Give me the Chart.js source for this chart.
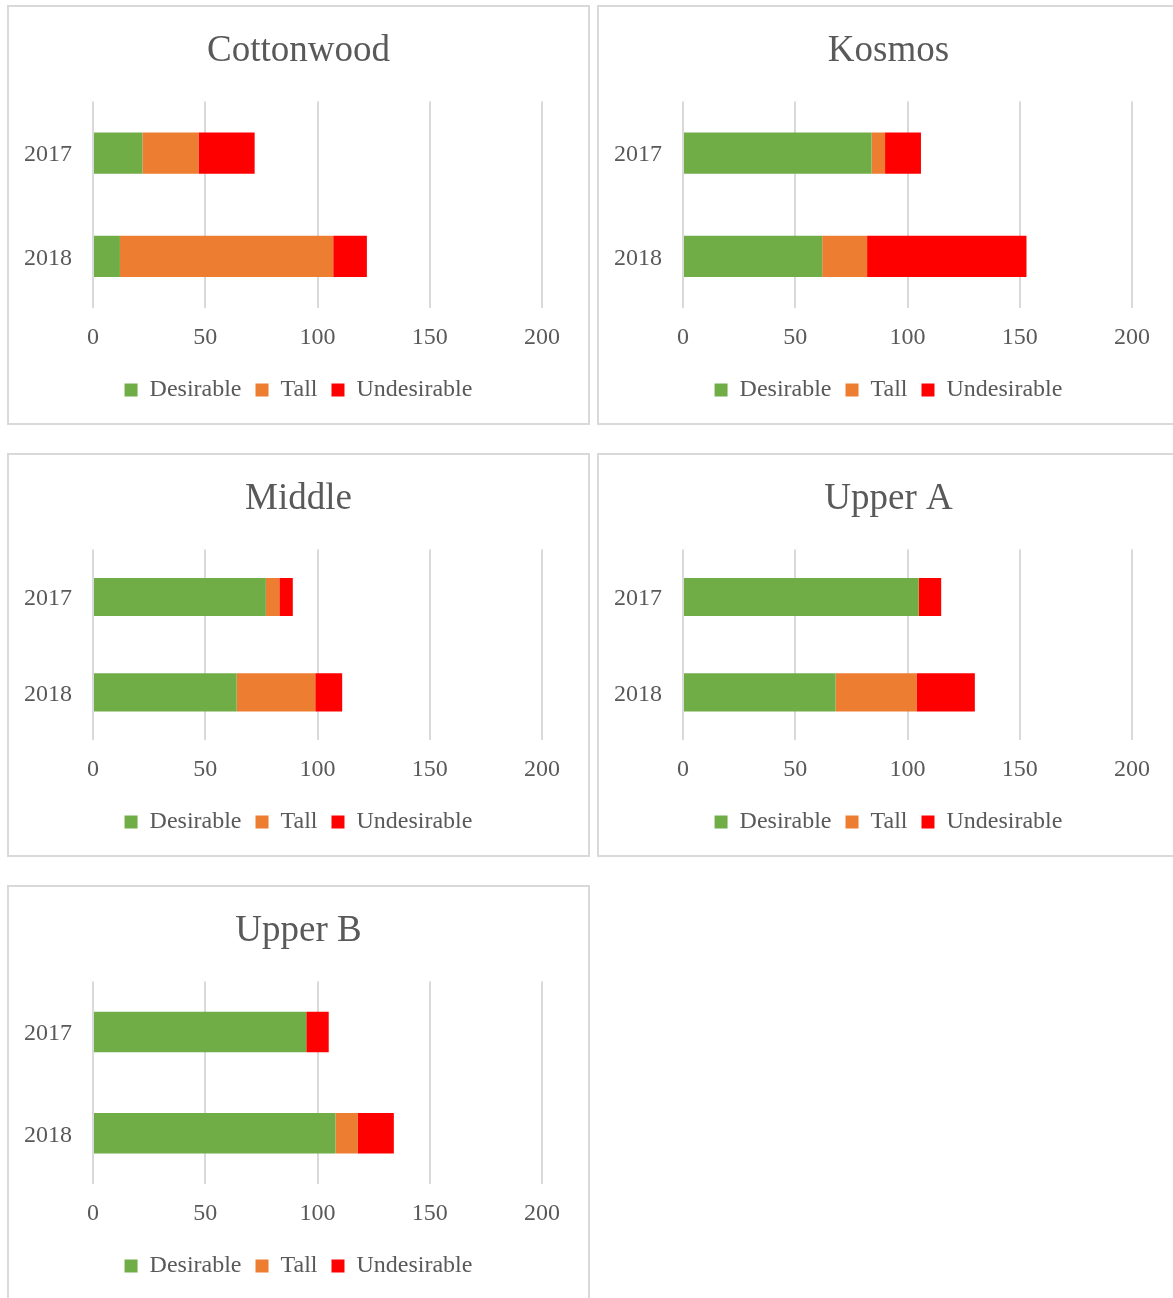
<!DOCTYPE html>
<html>
<head>
<meta charset="utf-8">
<script src="https://cdn.jsdelivr.net/npm/chart.js@4/dist/chart.umd.min.js"></script>
<style>
  html, body { margin: 0; padding: 0; background: #fff; overflow: hidden; }
  body { width: 1173px; height: 1298px; position: relative; }
  .panel { position: absolute; border: 2px solid #d9d9d9; box-sizing: border-box; background: #fff; }
  .panel canvas { display: block; }
</style>
</head>
<body>

<script>
// ---- data ----
const years = ["2017", "2018"];
const seriesNames = ["Desirable", "Tall", "Undesirable"];
const seriesColors = ["#70AD47", "#ED7D31", "#FF0000"];
const xTicks = [0, 50, 100, 150, 200];

const siteNames = ["Cottonwood", "Kosmos", "Middle", "Upper A", "Upper B"];
// [2017, 2018] per site
const desirable   = [[22, 12], [84, 62], [77, 64], [105, 68], [95, 108]];
const tall        = [[25, 95], [6, 20],  [6, 35],  [0, 36],   [0, 10]];
const undesirable = [[25, 15], [16, 71], [6, 12],  [10, 26],  [10, 16]];

// panel boxes: left, top, width, height
const boxes = [
  [7, 5, 583, 420],
  [597, 5, 583, 420],
  [7, 453, 583, 404],
  [597, 453, 583, 404],
  [7, 885, 583, 416]
];

const textColor = "#595959";
const gridColor = "#d9d9d9";
const fontFamily = "'Liberation Serif', 'Times New Roman', serif";

function makePanel(i) {
  const [l, t, w, h] = boxes[i];
  const div = document.createElement("div");
  div.className = "panel";
  div.style.left = l + "px";
  div.style.top = t + "px";
  div.style.width = w + "px";
  div.style.height = h + "px";
  const cv = document.createElement("canvas");
  div.appendChild(cv);
  document.body.appendChild(div);
  cv.width = w - 4;
  cv.height = h - 4;
  cv.style.width = (w - 4) + "px";
  cv.style.height = (h - 4) + "px";

  const allSeries = [desirable[i], tall[i], undesirable[i]];

  new Chart(cv, {
    type: "bar",
    data: {
      labels: years,
      datasets: seriesNames.map((name, k) => ({
        label: name,
        data: allSeries[k],
        backgroundColor: seriesColors[k],
        borderWidth: 0,
        barPercentage: 0.4,
        categoryPercentage: 1
      }))
    },
    options: {
      indexAxis: "y",
      responsive: false,
      animation: false,
      devicePixelRatio: 1,
      layout: { padding: { left: 0, right: 0, top: 0, bottom: 11 } },
      plugins: {
        title: {
          display: true,
          text: siteNames[i],
          color: textColor,
          font: { family: fontFamily, size: 37, weight: "normal" },
          padding: { top: 22, bottom: 28 }
        },
        legend: {
          position: "bottom",
          labels: {
            color: textColor,
            font: { family: fontFamily, size: 24 },
            boxWidth: 13,
            boxHeight: 13,
            padding: 14
          }
        },
        tooltip: { enabled: false }
      },
      scales: {
        x: {
          stacked: true,
          min: 0,
          max: 200,
          afterBuildTicks: (s) => { s.ticks = xTicks.map(v => ({ value: v })); },
          grid: { color: gridColor, lineWidth: 2, drawTicks: false },
          border: { display: false },
          ticks: {
            color: textColor,
            font: { family: fontFamily, size: 24 },
            padding: 15
          },
          afterFit: (s) => { s.height = 56; }
        },
        y: {
          stacked: true,
          grid: { display: false, drawTicks: false },
          border: { display: false },
          ticks: {
            color: textColor,
            font: { family: fontFamily, size: 24 },
            padding: 21,
            labelOffset: 2
          },
          afterFit: (s) => { s.width = 84; }
        },
        // empty right-hand spacer so the plot ends where the reference does
        // while title and legend stay centred on the whole box
        yRight: {
          axis: "y",
          type: "category",
          position: "right",
          grid: { display: false, drawTicks: false },
          border: { display: false },
          ticks: { display: false },
          afterFit: (s) => { s.width = 46; }
        }
      }
    }
  });
}

for (let i = 0; i < siteNames.length; i++) makePanel(i);
</script>
</body>
</html>
